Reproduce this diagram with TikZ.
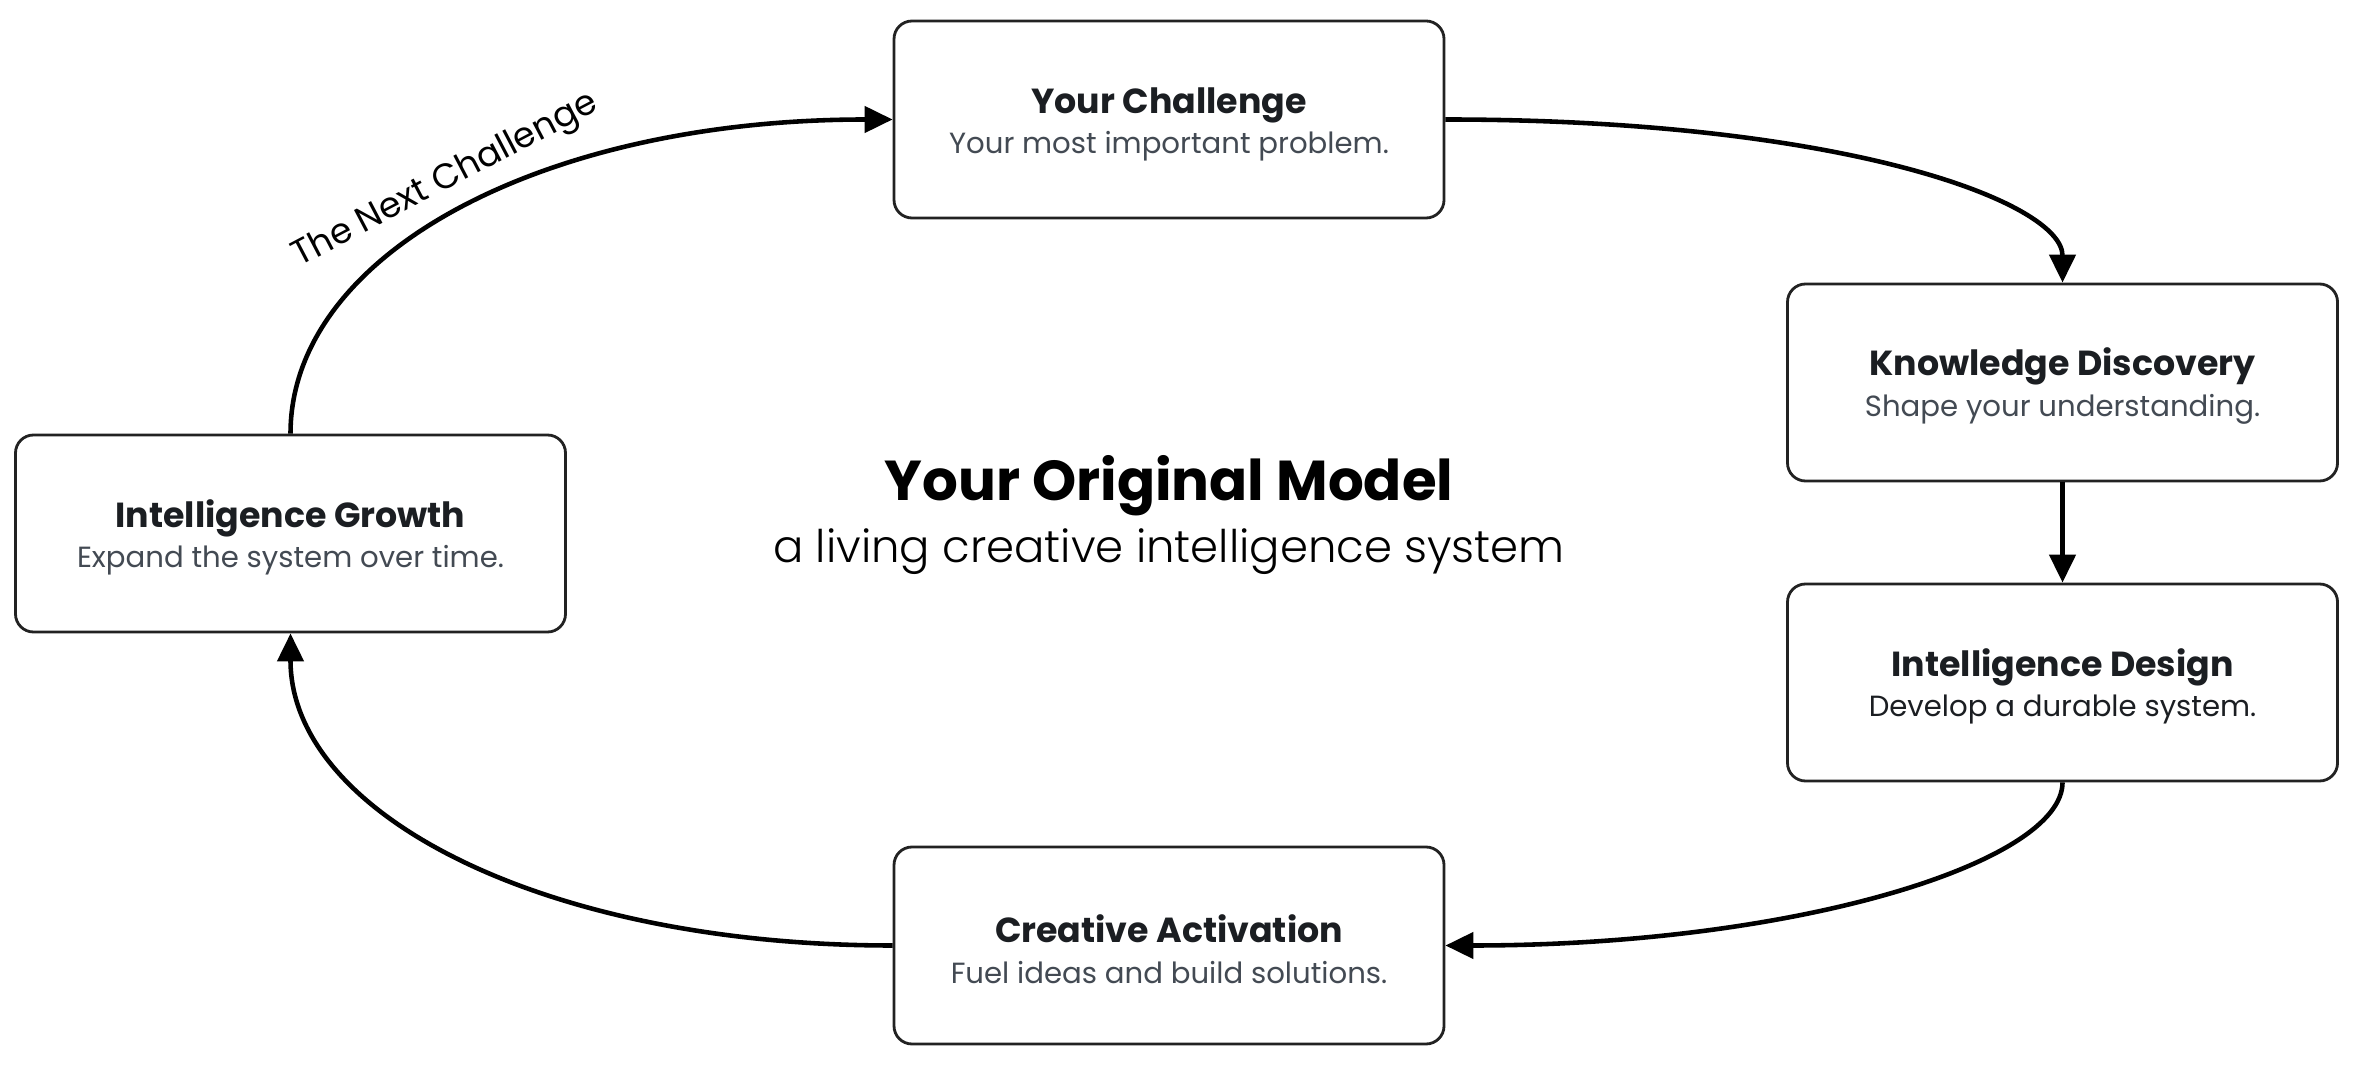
\documentclass[tikz,border=0pt]{standalone}
\usepackage{fontspec}
\setmainfont{Poppins}
\newfontfamily\lightfont{Poppins Light}
\usepackage{tikz}
\usetikzlibrary{arrows.meta}

\definecolor{ink}{HTML}{1B1E22}
\definecolor{subgray}{HTML}{434A53}
\definecolor{edge}{HTML}{222222}

\begin{document}
\begin{tikzpicture}[
    stage/.style={draw=edge, line width=0.8pt, rounded corners=0.18cm, fill=white,
        minimum width=5.5cm, minimum height=1.97cm, align=center, text=ink},
    flow/.style={line width=1.3pt, -{Triangle[length=0.28cm, width=0.26cm]}},
]
    \useasboundingbox (0,0) rectangle (23.59,-10.69);

    \node[stage] at (11.69, -1.195) (yc) {{\fontsize{9.9}{12}\selectfont\bfseries\rule{0pt}{10pt}Your Challenge}\\[-0.5pt]
        {\fontsize{8.3}{10}\selectfont\color{subgray} Your most important problem.}};
    \node[stage] at (20.625, -3.825) (kd) {{\fontsize{9.9}{12}\selectfont\bfseries\rule{0pt}{10pt}Knowledge Discovery}\\[-0.5pt]
        {\fontsize{8.3}{10}\selectfont\color{subgray} Shape your understanding.}};
    \node[stage] at (20.625, -6.825) (id) {{\fontsize{9.9}{12}\selectfont\bfseries\rule{0pt}{10pt}Intelligence Design}\\[-0.5pt]
        {\fontsize{8.3}{10}\selectfont Develop a durable system.}};
    \node[stage] at (11.69, -9.455) (ca) {{\fontsize{9.9}{12}\selectfont\bfseries\rule{0pt}{10pt}Creative Activation}\\[-0.5pt]
        {\fontsize{8.3}{10}\selectfont\color{subgray} Fuel ideas and build solutions.}};
    \node[stage] at (2.905, -5.335) (ig) {{\fontsize{9.9}{12}\selectfont\bfseries\rule{0pt}{10pt}Intelligence Growth}\\[-0.5pt]
        {\fontsize{8.3}{10}\selectfont\color{subgray} Expand the system over time.}};

    \node at (11.69, -4.86) (title) {\fontsize{16}{19}\selectfont\bfseries Your Original Model};
    \node at (11.69, -5.52) (subtitle) {\fontsize{12.8}{15}\selectfont\lightfont a living creative intelligence system};

    \draw[flow] (yc.east) to[out=0, in=90, out distance=4cm, in distance=0.8cm] (kd.north);
    \draw[flow] (kd.south) -- (id.north);
    \draw[flow] (id.south) to[out=-90, in=0, out distance=0.8cm, in distance=3.5cm] (ca.east);
    \draw[flow] (ca.west) to[out=180, in=-90, out distance=3.5cm, in distance=1.8cm] (ig.south);
    \draw[flow] (ig.north) to[out=90, in=180, out distance=1.8cm, in distance=3.5cm]
        node[pos=0.5, sloped, above=0pt] {\fontsize{10}{12}\selectfont The Next Challenge} (yc.west);
\end{tikzpicture}
\end{document}
